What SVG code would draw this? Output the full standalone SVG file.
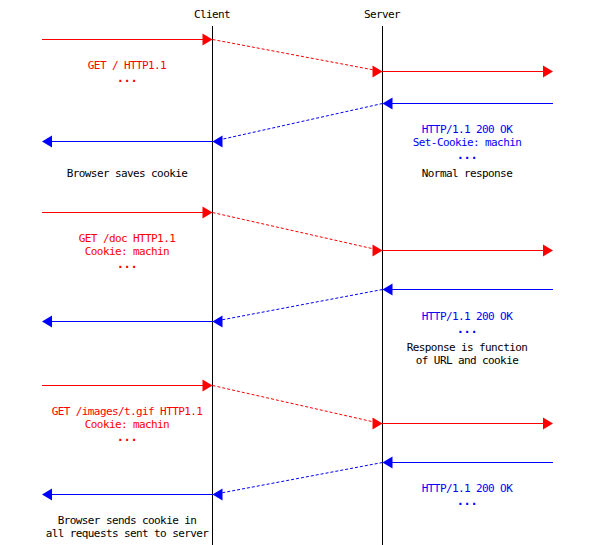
<svg xmlns="http://www.w3.org/2000/svg" xmlns:xlink="http://www.w3.org/1999/xlink" width="595" height="545" viewBox="0 0 595 545">
<style>
text{font-family:"DejaVu Sans Mono","Liberation Mono",monospace;font-size:11px;letter-spacing:-0.6px;text-anchor:middle}
text.d{font-weight:bold;font-size:12px;letter-spacing:-0.4px}
.k{fill:#000}.r{fill:#ff0000}.b{fill:#0000ff}
.life{stroke:#000;stroke-width:1;fill:none}
.rs{stroke:#ff0000;stroke-width:1;fill:none}
.bs{stroke:#0000ff;stroke-width:1;fill:none}
.rd{stroke:#ff0000;stroke-width:1;fill:none;stroke-dasharray:3,2}
.bd{stroke:#0000ff;stroke-width:1;fill:none;stroke-dasharray:3,2}
</style>
<defs>
<path id="ah" d="M0,0 L-10,-6 L-10,6 Z"/>
</defs>
<rect width="595" height="545" fill="#fff"/>
<g id="client">
<line class="life" x1="212.5" y1="26" x2="212.5" y2="545"/>
<text class="k" x="212" y="18">Client</text>
</g>
<g id="server">
<line class="life" x1="382.5" y1="26" x2="382.5" y2="545"/>
<text class="k" x="382" y="18">Server</text>
</g>
<g id="connectors">
<!-- section 1 -->
<line class="rs" x1="42" y1="39.5" x2="204" y2="39.5"/>
<use href="#ah" xlink:href="#ah" fill="#ff0000" transform="translate(212.5,39.5)"/>
<line class="rd" x1="212.5" y1="39.5" x2="374" y2="70"/>
<use href="#ah" xlink:href="#ah" fill="#ff0000" transform="translate(382.5,71.5)"/>
<line class="rs" x1="382.5" y1="71.5" x2="545" y2="71.5"/>
<use href="#ah" xlink:href="#ah" fill="#ff0000" transform="translate(553,71.5)"/>
<line class="bs" x1="553" y1="103.5" x2="390" y2="103.5"/>
<use href="#ah" xlink:href="#ah" fill="#0000ff" transform="translate(382.5,103.5) rotate(180)"/>
<line class="bd" x1="382.5" y1="103.5" x2="221" y2="139.5"/>
<use href="#ah" xlink:href="#ah" fill="#0000ff" transform="translate(212.5,141.5) rotate(180)"/>
<line class="bs" x1="212.5" y1="141.5" x2="50" y2="141.5"/>
<use href="#ah" xlink:href="#ah" fill="#0000ff" transform="translate(42,141.5) rotate(180)"/>
<!-- section 2 -->
<line class="rs" x1="42" y1="212.5" x2="204" y2="212.5"/>
<use href="#ah" xlink:href="#ah" fill="#ff0000" transform="translate(212.5,212.5)"/>
<line class="rd" x1="212.5" y1="212.5" x2="374" y2="249"/>
<use href="#ah" xlink:href="#ah" fill="#ff0000" transform="translate(382.5,250.5)"/>
<line class="rs" x1="382.5" y1="250.5" x2="545" y2="250.5"/>
<use href="#ah" xlink:href="#ah" fill="#ff0000" transform="translate(553,250.5)"/>
<line class="bs" x1="553" y1="289.5" x2="390" y2="289.5"/>
<use href="#ah" xlink:href="#ah" fill="#0000ff" transform="translate(382.5,289.5) rotate(180)"/>
<line class="bd" x1="382.5" y1="289.5" x2="221" y2="320"/>
<use href="#ah" xlink:href="#ah" fill="#0000ff" transform="translate(212.5,321.5) rotate(180)"/>
<line class="bs" x1="212.5" y1="321.5" x2="50" y2="321.5"/>
<use href="#ah" xlink:href="#ah" fill="#0000ff" transform="translate(42,321.5) rotate(180)"/>
<!-- section 3 -->
<line class="rs" x1="42" y1="385.5" x2="204" y2="385.5"/>
<use href="#ah" xlink:href="#ah" fill="#ff0000" transform="translate(212.5,385.5)"/>
<line class="rd" x1="212.5" y1="385.5" x2="374" y2="422"/>
<use href="#ah" xlink:href="#ah" fill="#ff0000" transform="translate(382.5,423.5)"/>
<line class="rs" x1="382.5" y1="423.5" x2="545" y2="423.5"/>
<use href="#ah" xlink:href="#ah" fill="#ff0000" transform="translate(553,423.5)"/>
<line class="bs" x1="553" y1="462.5" x2="390" y2="462.5"/>
<use href="#ah" xlink:href="#ah" fill="#0000ff" transform="translate(382.5,462.5) rotate(180)"/>
<line class="bd" x1="382.5" y1="462.5" x2="221" y2="493"/>
<use href="#ah" xlink:href="#ah" fill="#0000ff" transform="translate(212.5,494.5) rotate(180)"/>
<line class="bs" x1="212.5" y1="494.5" x2="50" y2="494.5"/>
<use href="#ah" xlink:href="#ah" fill="#0000ff" transform="translate(42,494.5) rotate(180)"/>
</g>
<g id="labels">
<text class="r" x="127" y="69">GET / HTTP1.1</text>
<text class="r d" x="127" y="82">...</text>
<text class="b" x="467" y="132.5">HTTP/1.1 200 OK</text>
<text class="b" x="467" y="146">Set-Cookie: machin</text>
<text class="b d" x="467" y="159">...</text>
<text class="k" x="467" y="177">Normal response</text>
<text class="k" x="127" y="177">Browser saves cookie</text>

<text class="r" x="127" y="242">GET /doc HTTP1.1</text>
<text class="r" x="127" y="255">Cookie: machin</text>
<text class="r d" x="127" y="268">...</text>
<text class="b" x="467" y="319.5">HTTP/1.1 200 OK</text>
<text class="b d" x="467" y="332.5">...</text>
<text class="k" x="467" y="351">Response is function</text>
<text class="k" x="467" y="364">of URL and cookie</text>

<text class="r" x="127" y="415">GET /images/t.gif HTTP1.1</text>
<text class="r" x="127" y="428">Cookie: machin</text>
<text class="r d" x="127" y="441">...</text>
<text class="b" x="467" y="492">HTTP/1.1 200 OK</text>
<text class="b d" x="467" y="505">...</text>
<text class="k" x="127" y="524">Browser sends cookie in</text>
<text class="k" x="127" y="537">all requests sent to server</text>
</g>
</svg>
